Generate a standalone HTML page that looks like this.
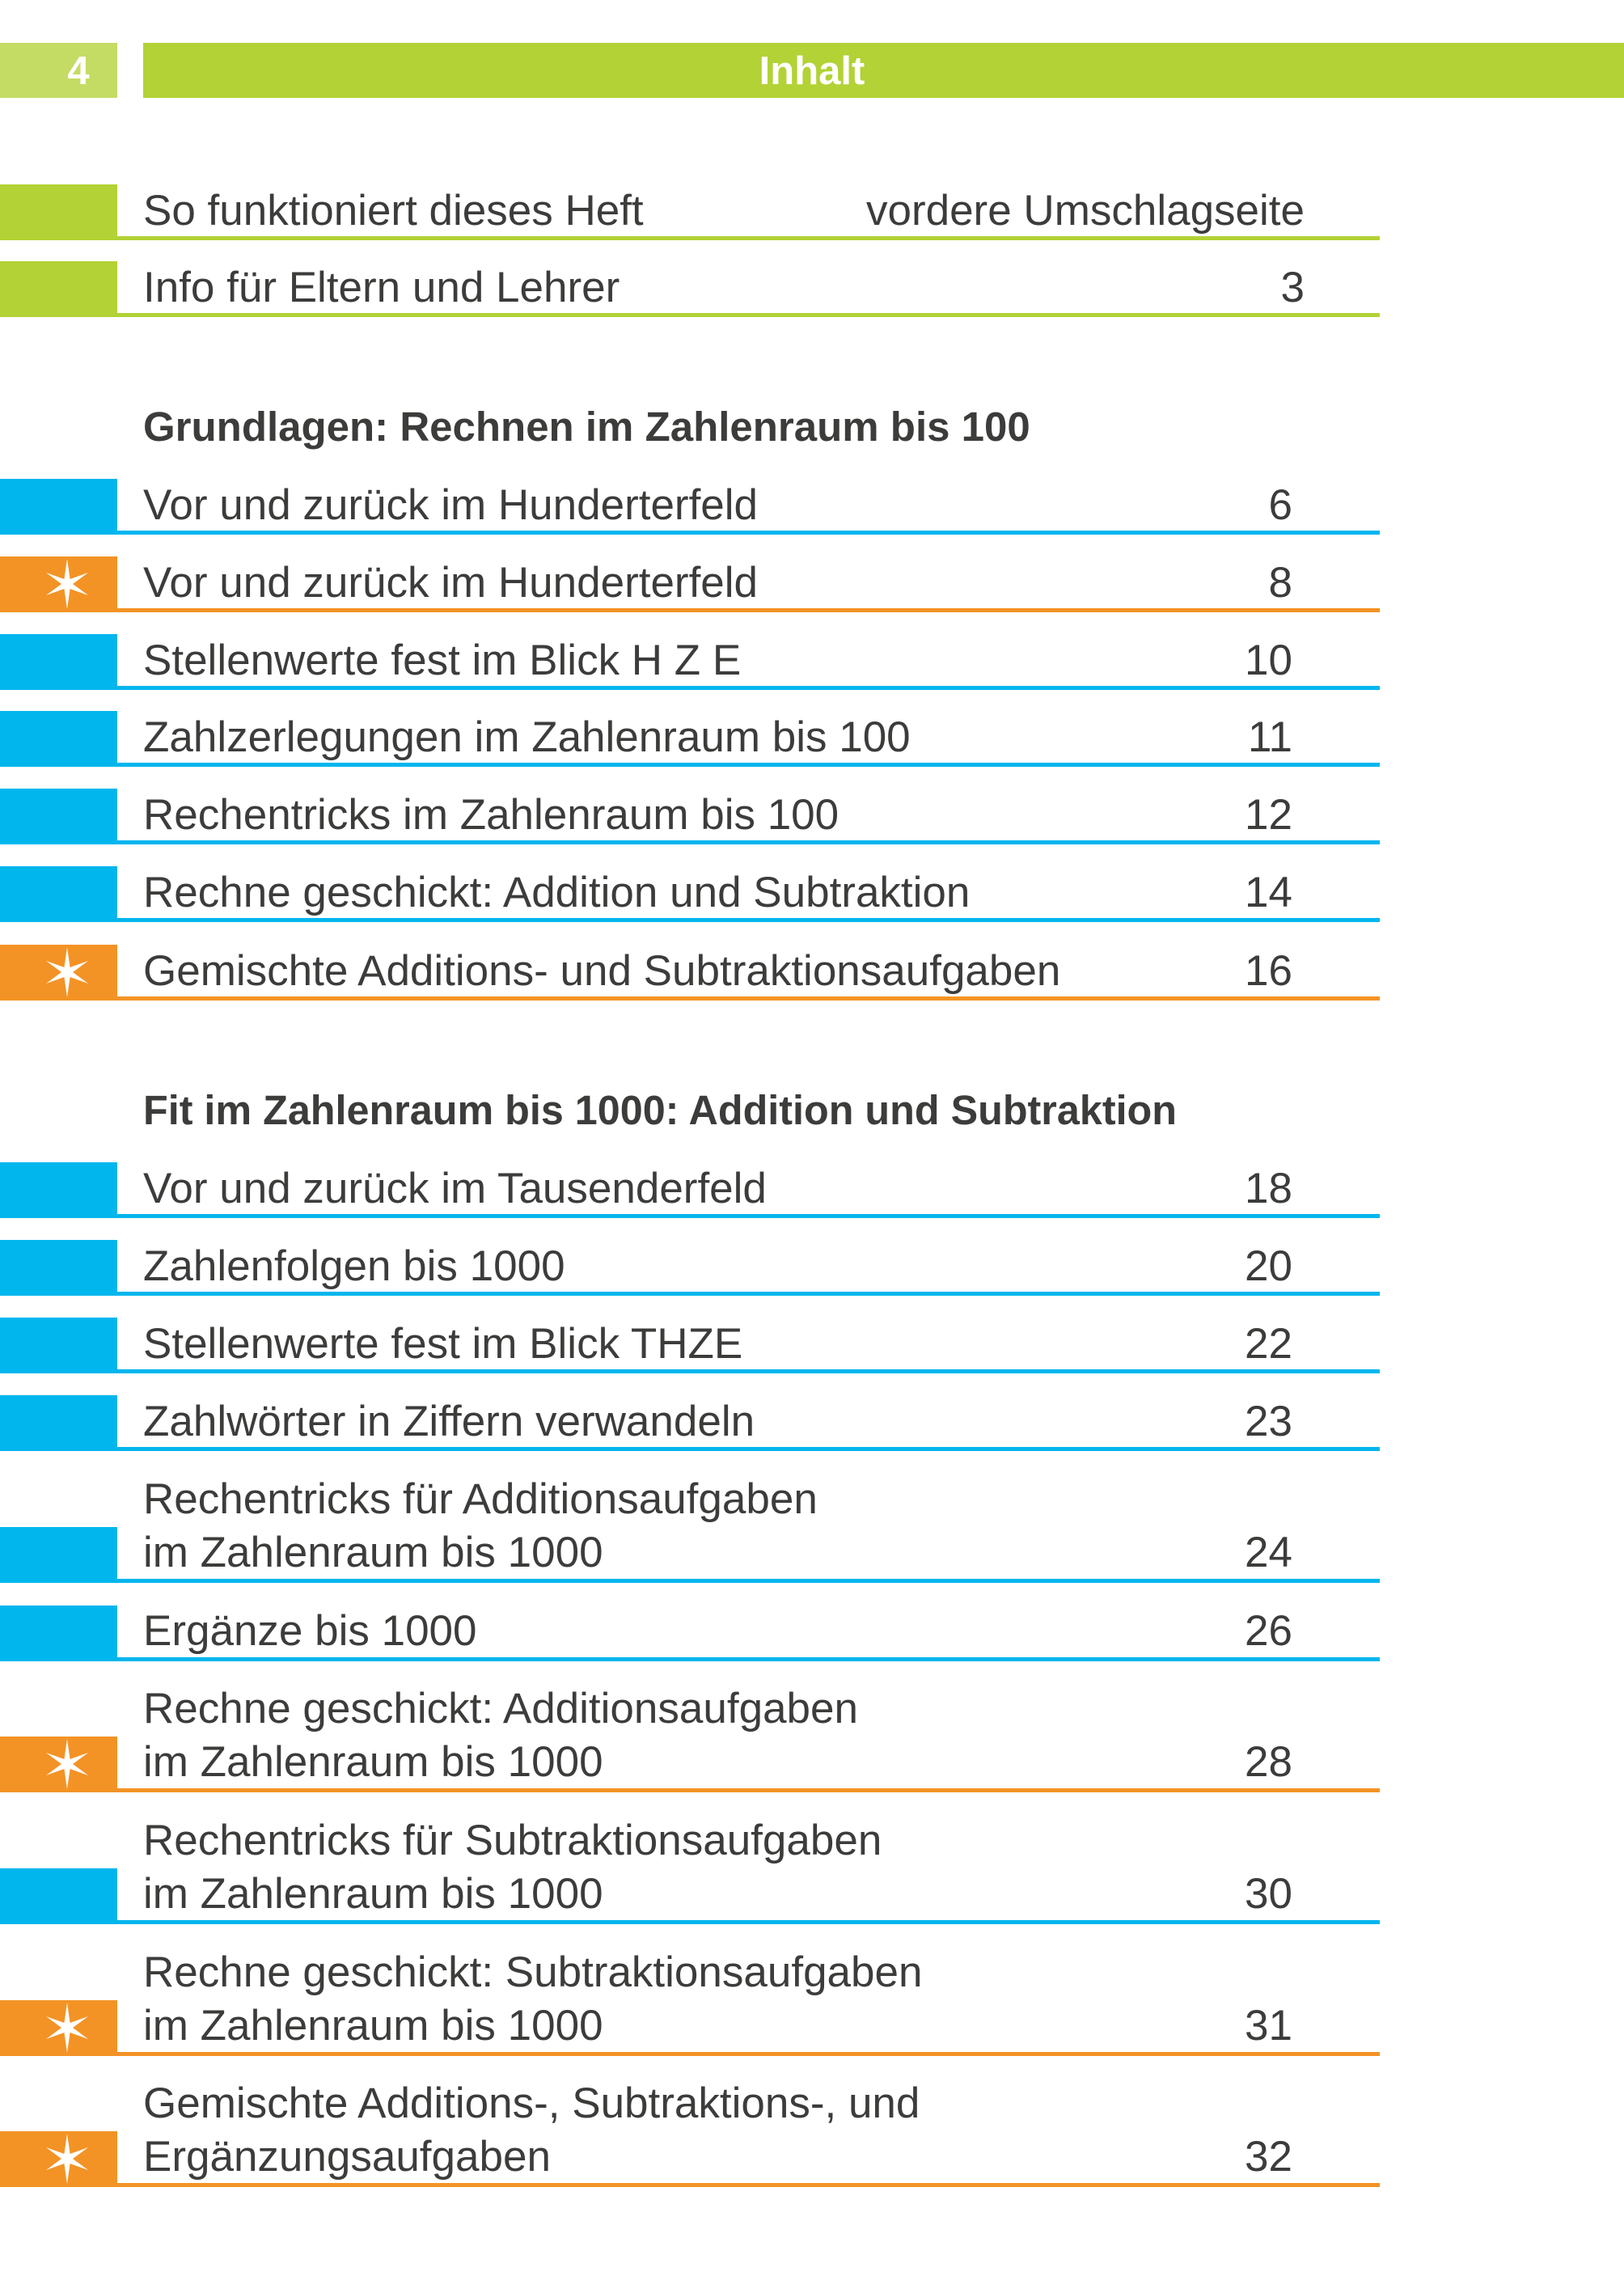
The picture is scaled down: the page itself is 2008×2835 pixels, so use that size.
<!DOCTYPE html>
<html>
<head>
<meta charset="utf-8">
<style>
html,body{margin:0;padding:0;background:#fff;}
svg{display:block;}
text{font-family:"Liberation Sans",Arial,sans-serif;}
.t{font-size:53px;fill:#3c3c3b;}
.h{font-size:51px;font-weight:bold;fill:#3c3c3b;}
.n{font-size:53px;fill:#3c3c3b;text-anchor:end;}
.w{font-size:49px;font-weight:bold;fill:#fff;text-anchor:middle;}
</style>
</head>
<body>
<svg width="2008" height="2835" viewBox="0 0 2008 2835" xmlns="http://www.w3.org/2000/svg">
<defs>
<polygon id="star" points="0,-31 3.6,-6 26,-14 7,0 26,14 3.6,6 0,31 -3.6,6 -26,14 -7,0 -26,-14 -3.6,-6" fill="#fff"/>
</defs>
<rect width="2008" height="2835" fill="#fff"/>

<!-- Header -->
<rect x="0" y="53" width="145" height="68" fill="#c4dc64"/>
<rect x="177" y="53" width="1831" height="68" fill="#b2d235"/>
<text class="w" x="97" y="104">4</text>
<text class="w" x="1004" y="104">Inhalt</text>

<!-- Section 0 (green) -->
<rect x="0" y="228" width="145" height="69" fill="#b2d235"/>
<rect x="145" y="292" width="1561" height="5" fill="#b2d235"/>
<text class="t" x="177" y="278">So funktioniert dieses Heft</text>
<text class="n" x="1613" y="278">vordere Umschlagseite</text>

<rect x="0" y="323" width="145" height="69" fill="#b2d235"/>
<rect x="145" y="387" width="1561" height="5" fill="#b2d235"/>
<text class="t" x="177" y="373">Info für Eltern und Lehrer</text>
<text class="n" x="1613" y="373">3</text>

<!-- Heading 1 -->
<text class="h" x="177" y="545">Grundlagen: Rechnen im Zahlenraum bis 100</text>

<!-- rows -->
<rect x="0" y="592" width="145" height="69" fill="#00b6ed"/>
<rect x="145" y="656" width="1561" height="5" fill="#00b6ed"/>
<text class="t" x="177" y="642">Vor und zurück im Hunderterfeld</text>
<text class="n" x="1598" y="642">6</text>

<rect x="0" y="688" width="145" height="69" fill="#f39325"/>
<rect x="145" y="752" width="1561" height="5" fill="#f39325"/>
<use href="#star" x="83" y="722"/>
<text class="t" x="177" y="738">Vor und zurück im Hunderterfeld</text>
<text class="n" x="1598" y="738">8</text>

<rect x="0" y="784" width="145" height="69" fill="#00b6ed"/>
<rect x="145" y="848" width="1561" height="5" fill="#00b6ed"/>
<text class="t" x="177" y="834">Stellenwerte fest im Blick H Z E</text>
<text class="n" x="1598" y="834">10</text>

<rect x="0" y="879" width="145" height="69" fill="#00b6ed"/>
<rect x="145" y="943" width="1561" height="5" fill="#00b6ed"/>
<text class="t" x="177" y="929">Zahlzerlegungen im Zahlenraum bis 100</text>
<text class="n" x="1598" y="929">11</text>

<rect x="0" y="975" width="145" height="69" fill="#00b6ed"/>
<rect x="145" y="1039" width="1561" height="5" fill="#00b6ed"/>
<text class="t" x="177" y="1025">Rechentricks im Zahlenraum bis 100</text>
<text class="n" x="1598" y="1025">12</text>

<rect x="0" y="1071" width="145" height="69" fill="#00b6ed"/>
<rect x="145" y="1135" width="1561" height="5" fill="#00b6ed"/>
<text class="t" x="177" y="1121">Rechne geschickt: Addition und Subtraktion</text>
<text class="n" x="1598" y="1121">14</text>

<rect x="0" y="1168" width="145" height="69" fill="#f39325"/>
<rect x="145" y="1232" width="1561" height="5" fill="#f39325"/>
<use href="#star" x="83" y="1202"/>
<text class="t" x="177" y="1218">Gemischte Additions- und Subtraktionsaufgaben</text>
<text class="n" x="1598" y="1218">16</text>

<!-- Heading 2 -->
<text class="h" x="177" y="1390" textLength="1278" lengthAdjust="spacingAndGlyphs">Fit im Zahlenraum bis 1000: Addition und Subtraktion</text>

<rect x="0" y="1437" width="145" height="69" fill="#00b6ed"/>
<rect x="145" y="1501" width="1561" height="5" fill="#00b6ed"/>
<text class="t" x="177" y="1487">Vor und zurück im Tausenderfeld</text>
<text class="n" x="1598" y="1487">18</text>

<rect x="0" y="1533" width="145" height="69" fill="#00b6ed"/>
<rect x="145" y="1597" width="1561" height="5" fill="#00b6ed"/>
<text class="t" x="177" y="1583">Zahlenfolgen bis 1000</text>
<text class="n" x="1598" y="1583">20</text>

<rect x="0" y="1629" width="145" height="69" fill="#00b6ed"/>
<rect x="145" y="1693" width="1561" height="5" fill="#00b6ed"/>
<text class="t" x="177" y="1679">Stellenwerte fest im Blick THZE</text>
<text class="n" x="1598" y="1679">22</text>

<rect x="0" y="1725" width="145" height="69" fill="#00b6ed"/>
<rect x="145" y="1789" width="1561" height="5" fill="#00b6ed"/>
<text class="t" x="177" y="1775">Zahlwörter in Ziffern verwandeln</text>
<text class="n" x="1598" y="1775">23</text>

<rect x="0" y="1888" width="145" height="69" fill="#00b6ed"/>
<rect x="145" y="1952" width="1561" height="5" fill="#00b6ed"/>
<text class="t" x="177" y="1871">Rechentricks für Additionsaufgaben</text>
<text class="t" x="177" y="1937">im Zahlenraum bis 1000</text>
<text class="n" x="1598" y="1937">24</text>

<rect x="0" y="1985" width="145" height="69" fill="#00b6ed"/>
<rect x="145" y="2049" width="1561" height="5" fill="#00b6ed"/>
<text class="t" x="177" y="2034">Ergänze bis 1000</text>
<text class="n" x="1598" y="2034">26</text>

<rect x="0" y="2147" width="145" height="69" fill="#f39325"/>
<rect x="145" y="2211" width="1561" height="5" fill="#f39325"/>
<use href="#star" x="83" y="2181"/>
<text class="t" x="177" y="2130">Rechne geschickt: Additionsaufgaben</text>
<text class="t" x="177" y="2196">im Zahlenraum bis 1000</text>
<text class="n" x="1598" y="2196">28</text>

<rect x="0" y="2310" width="145" height="69" fill="#00b6ed"/>
<rect x="145" y="2374" width="1561" height="5" fill="#00b6ed"/>
<text class="t" x="177" y="2293">Rechentricks für Subtraktionsaufgaben</text>
<text class="t" x="177" y="2359">im Zahlenraum bis 1000</text>
<text class="n" x="1598" y="2359">30</text>

<rect x="0" y="2473" width="145" height="69" fill="#f39325"/>
<rect x="145" y="2537" width="1561" height="5" fill="#f39325"/>
<use href="#star" x="83" y="2507"/>
<text class="t" x="177" y="2456">Rechne geschickt: Subtraktionsaufgaben</text>
<text class="t" x="177" y="2522">im Zahlenraum bis 1000</text>
<text class="n" x="1598" y="2522">31</text>

<rect x="0" y="2635" width="145" height="69" fill="#f39325"/>
<rect x="145" y="2699" width="1561" height="5" fill="#f39325"/>
<use href="#star" x="83" y="2669"/>
<text class="t" x="177" y="2618">Gemischte Additions-, Subtraktions-, und</text>
<text class="t" x="177" y="2684">Ergänzungsaufgaben</text>
<text class="n" x="1598" y="2684">32</text>
</svg>
</body>
</html>
